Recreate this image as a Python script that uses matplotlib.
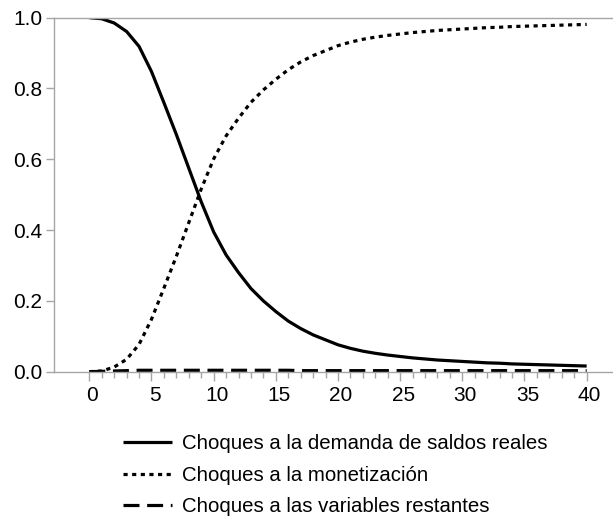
import numpy as np
import matplotlib.pyplot as plt
import matplotlib.transforms as mtransforms

plt.rcParams['font.family'] = ['Liberation Sans', 'DejaVu Sans']

# horizonte (periodos)
periodos = list(range(0, 41))

# proporcion de la varianza explicada por cada choque
demanda_saldos = [1.000, 0.997, 0.985, 0.961, 0.919, 0.848, 0.760, 0.670, 0.575, 0.480,
                  0.395, 0.330, 0.280, 0.235, 0.200, 0.170, 0.143, 0.122, 0.104, 0.090,
                  0.076, 0.066, 0.058, 0.052, 0.047, 0.043, 0.039, 0.036, 0.033, 0.031,
                  0.029, 0.027, 0.025, 0.024, 0.022, 0.021, 0.020, 0.019, 0.018, 0.017,
                  0.016]
monetizacion = [0.000, 0.002, 0.013, 0.035, 0.077, 0.148, 0.236, 0.326, 0.421, 0.516,
                0.601, 0.666, 0.716, 0.761, 0.796, 0.826, 0.853, 0.875, 0.893, 0.907,
                0.921, 0.931, 0.939, 0.945, 0.950, 0.954, 0.958, 0.961, 0.964, 0.966,
                0.968, 0.970, 0.972, 0.973, 0.975, 0.976, 0.977, 0.978, 0.979, 0.980,
                0.981]
restantes = [0.000, 0.001, 0.002, 0.003, 0.004, 0.004, 0.004, 0.004, 0.004, 0.004,
             0.004, 0.004, 0.004, 0.004, 0.004, 0.004, 0.004, 0.003, 0.003, 0.003,
             0.003, 0.003, 0.003, 0.003, 0.003, 0.003, 0.003, 0.003, 0.003, 0.003,
             0.003, 0.003, 0.003, 0.003, 0.003, 0.003, 0.003, 0.003, 0.003, 0.003,
             0.003]

yticks = [0.0, 0.2, 0.4, 0.6, 0.8, 1.0]
etiquetas = ["Choques a la demanda de saldos reales",
             "Choques a la monetización",
             "Choques a las variables restantes"]

W, H = 613, 523
fig = plt.figure(figsize=(W / 100, H / 100), dpi=100)
ax = fig.add_axes([54 / W, 1 - 371.7 / H, (W - 54) / W, (371.7 - 17.7) / H])

gris = '#a6a6a6'
lw = 2.3
l1, = ax.plot(periodos, demanda_saldos, color='black', lw=lw, solid_capstyle='butt')
l2, = ax.plot(periodos, monetizacion, color='black', lw=lw, dashes=(1.3, 1.4))
l3, = ax.plot(periodos, restantes, color='black', lw=lw, dashes=(5, 2.4))

ax.set_xlim(-2.84, 42.12)
ax.set_ylim(0, 1.0)
ax.set_xticks(range(0, 41, 5))
ax.set_xticks(range(0, 41), minor=True)
ax.set_yticks(yticks)
ax.set_yticklabels(["{:.1f}".format(v) for v in yticks])

for side in ['left', 'bottom', 'top']:
    ax.spines[side].set_color(gris)
    ax.spines[side].set_linewidth(1.0)
ax.spines['right'].set_visible(False)

ax.tick_params(axis='both', which='both', direction='out', color=gris, width=1.0,
               labelsize=15, labelcolor='black')
ax.tick_params(axis='y', length=5.5, pad=3)
ax.tick_params(axis='x', which='major', length=6.5, pad=4)
ax.tick_params(axis='x', which='minor', length=4)

# etiquetas del eje x algo corridas a la derecha, como en el original
desplaza = mtransforms.ScaledTranslation(3 / 100, 0, fig.dpi_scale_trans)
for lab in ax.get_xticklabels():
    lab.set_transform(lab.get_transform() + desplaza)

fig.legend([l1, l2, l3], etiquetas, loc='upper left', bbox_to_anchor=(123 / W, 1 - 434 / H),
           frameon=False, fontsize=14.7, handlelength=2.4, handletextpad=0.5,
           labelspacing=0.62, borderaxespad=0, borderpad=0)

fig.savefig('out.png', dpi=100)
